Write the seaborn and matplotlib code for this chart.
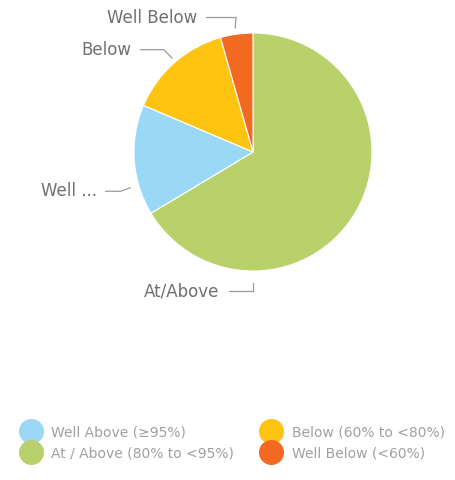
import matplotlib
matplotlib.use("Agg")
import matplotlib.pyplot as plt
from matplotlib.lines import Line2D
import seaborn as sns

# data (percent of total)
categories = ["At/Above", "Well ...", "Below", "Well Below"]
shares = [66.4, 15.0, 14.2, 4.4]
legend_labels = ["Well Above (\u226595%)", "At / Above (80% to <95%)",
                 "Below (60% to <80%)", "Well Below (<60%)"]
legend_order = [1, 0, 2, 3]  # legend index -> slice index

colors = ["#b8d16a", "#9bd8f6", "#ffc312", "#f26a21"]

label_pos = [(-0.28, -1.17), (-1.315, -0.33), (-1.02, 0.86), (-0.465, 1.13)]
anchor_pos = [(0.0, -1.10), (-1.03, -0.30), (-0.68, 0.79), (-0.15, 1.04)]
conn = ["angle,angleA=0,angleB=90,rad=0",
        "angle,angleA=0,angleB=20,rad=0",
        "angle,angleA=0,angleB=135,rad=0",
        "angle,angleA=0,angleB=85,rad=0"]

sns.set_theme(style="white")
plt.rcParams["font.family"] = ["DejaVu Sans"]

fig = plt.figure(figsize=(4.55, 4.8), dpi=100)
ax = fig.add_axes([134 / 455, 209 / 480, 238 / 455, 238 / 480])

wedges, _ = ax.pie(shares, colors=colors, startangle=90, counterclock=False,
                   radius=1.0, wedgeprops=dict(linewidth=0.8, edgecolor="white"))
ax.set_xlim(-1, 1)
ax.set_ylim(-1, 1)
ax.set_aspect("equal")
ax.axis("off")

for name, tpos, apos, cs in zip(categories, label_pos, anchor_pos, conn):
    ax.annotate(name, xy=apos, xytext=tpos, ha="right", va="center",
                fontsize=12, color="#707070", annotation_clip=False,
                arrowprops=dict(arrowstyle="-", color="#9a9a9a", lw=0.9,
                                connectionstyle=cs, relpos=(1, 0.5),
                                shrinkA=4, shrinkB=0))

handles = [Line2D([], [], marker="o", linestyle="none", markersize=17,
                  markerfacecolor=colors[i], markeredgecolor=colors[i])
           for i in legend_order]
fig.legend(handles, legend_labels, ncol=2, loc="center",
           bbox_to_anchor=(0.513, 0.078), frameon=False, fontsize=10,
           labelcolor="#a0a0a0", labelspacing=0.51, columnspacing=2.1,
           handletextpad=0.86, handlelength=1.2)

fig.savefig("out.png", dpi=100)
